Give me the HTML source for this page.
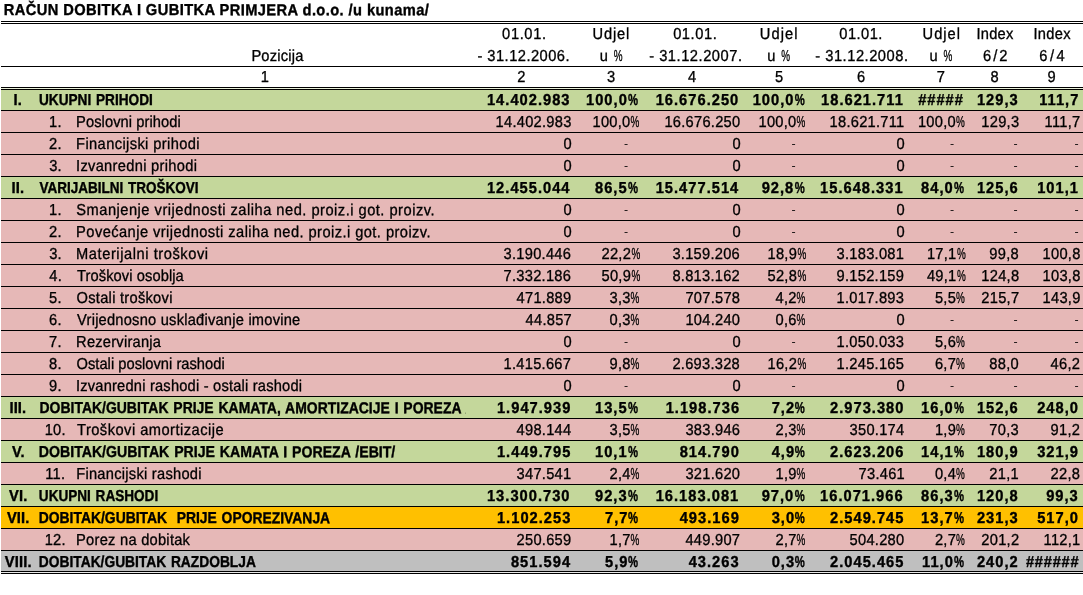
<!DOCTYPE html><html lang="hr"><head><meta charset="utf-8"><title>Račun dobitka i gubitka</title><style>
html,body{margin:0;padding:0}
body{width:1083px;height:595px;position:relative;overflow:hidden;background:#fff;color:#000;font:14.667px/22px "Liberation Sans",sans-serif}
.r{position:absolute;left:1px;right:0;height:22px;box-sizing:border-box;border-top:1px solid #000}
.r span,.h span,.t{position:absolute;top:0;white-space:pre;line-height:22px}
.r span,.h span{-webkit-text-stroke:.3px #000}
.r span,.h span,.t{left:0;transform:translateX(var(--x)) scaleY(1.08) rotate(.03deg);transform-origin:0 16px}
.r span.rt{left:auto;right:0}
.r span.lb{transform:translateX(var(--x)) scale(var(--s),1.08) rotate(.03deg);word-spacing:1px}
.b{font-weight:bold}
.r.b span,.t{-webkit-text-stroke:.35px #000}
.r span.d{-webkit-text-stroke:0}
.r span.d{transform:translateX(var(--x)) scale(.85,.8);transform-origin:50% 7px}
.h{position:absolute;left:0;right:0;height:22px}
.ln{position:absolute;left:1px;right:0;height:1px;background:#000}
i.p{display:inline-block;font-style:normal;width:.6em;transform:scaleX(.675);transform-origin:0 50%;letter-spacing:0}
.b i.p{width:.684em;transform:scaleX(.77)}
.c1{position:absolute;left:0;top:0;width:464.6px;height:21px;overflow:hidden}
</style></head><body>
<div class="t b" id="title" style="--x:3.77px;top:-1px;letter-spacing:0.417px">RAČUN DOBITKA I GUBITKA PRIMJERA d.o.o. /u kunama/</div>
<div class="h" style="top:23px">
<span id="ha0" style="--x:502.12px;letter-spacing:0.620px">01.01.</span>
<span id="ha1" style="--x:592.56px;letter-spacing:0.845px">Udjel</span>
<span id="ha2" style="--x:673.13px;letter-spacing:0.591px">01.01.</span>
<span id="ha3" style="--x:759.86px;letter-spacing:1.056px">Udjel</span>
<span id="ha4" style="--x:839.34px;letter-spacing:0.445px">01.01.</span>
<span id="ha5" style="--x:922.56px;letter-spacing:1.007px">Udjel</span>
<span id="ha6" style="--x:976.45px;letter-spacing:0.262px">Index</span>
<span id="ha7" style="--x:1033.40px;letter-spacing:0.314px">Index</span>
</div>
<div class="h" style="top:45px">
<span id="hb0" style="--x:251.38px;letter-spacing:0.213px">Pozicija</span>
<span id="hb1" style="--x:477.41px;letter-spacing:0.479px">- 31.12.2006.</span>
<span id="hb2" style="--x:599.82px;letter-spacing:0.776px">u <i class="p">%</i></span>
<span id="hb3" style="--x:649.13px;letter-spacing:0.541px">- 31.12.2007.</span>
<span id="hb4" style="--x:767.17px;letter-spacing:1.092px">u <i class="p">%</i></span>
<span id="hb5" style="--x:815.23px;letter-spacing:0.529px">- 31.12.2008.</span>
<span id="hb6" style="--x:929.42px;letter-spacing:0.688px">u <i class="p">%</i></span>
<span id="hb7" style="--x:982.94px;letter-spacing:2.055px">6/2</span>
<span id="hb8" style="--x:1039.22px;letter-spacing:2.575px">6/4</span>
</div>
<div class="h" style="top:66px">
<span id="hc0" style="--x:260.65px">1</span>
<span id="hc1" style="--x:517.15px">2</span>
<span id="hc2" style="--x:606.99px">3</span>
<span id="hc3" style="--x:688.03px">4</span>
<span id="hc4" style="--x:774.89px">5</span>
<span id="hc5" style="--x:856.91px">6</span>
<span id="hc6" style="--x:936.67px">7</span>
<span id="hc7" style="--x:990.60px">8</span>
<span id="hc8" style="--x:1047.60px">9</span>
</div>
<div class="ln" style="top:21px"></div>
<div class="ln" style="top:23px"></div>
<div class="ln" style="top:66px"></div>
<div class="ln" style="top:87px"></div>
<div class="r b" style="top:88px;background:#C4D79B">
<span id="n0" style="--x:12.60px;letter-spacing:0.150px">I.</span>
<span class="lb" id="l0" style="--x:37.96px;--s:0.9309">UKUPNI PRIHODI</span>
<span class="rt" id="v0_0" style="--x:-512.06px;letter-spacing:1.022px">14.402.983</span>
<span class="rt" id="v0_1" style="--x:-444.98px;letter-spacing:1.022px">100,0<i class="p">%</i></span>
<span class="rt" id="v0_2" style="--x:-343.33px;letter-spacing:1.022px">16.676.250</span>
<span class="rt" id="v0_3" style="--x:-278.32px;letter-spacing:1.022px">100,0<i class="p">%</i></span>
<span class="rt" id="v0_4" style="--x:-178.96px;letter-spacing:1.022px">18.621.711</span>
<span id="v0_5" style="--x:917.18px;letter-spacing:0.970px">#####</span>
<span class="rt" id="v0_6" style="--x:-64.07px;letter-spacing:1.022px">129,3</span>
<span class="rt" id="v0_7" style="--x:-3.83px;letter-spacing:1.022px">111,7</span>
</div>
<div class="r" style="top:110px;background:#E6B8B7">
<span id="n1" style="--x:47.94px;letter-spacing:0.300px">1.</span>
<span id="l1" style="--x:75.08px;letter-spacing:0.079px">Poslovni prihodi</span>
<span class="rt" id="v1_0" style="--x:-511.43px;letter-spacing:0.270px">14.402.983</span>
<span class="rt" id="v1_1" style="--x:-443.52px;letter-spacing:0.270px">100,0<i class="p">%</i></span>
<span class="rt" id="v1_2" style="--x:-342.60px;letter-spacing:0.270px">16.676.250</span>
<span class="rt" id="v1_3" style="--x:-277.52px;letter-spacing:0.270px">100,0<i class="p">%</i></span>
<span class="rt" id="v1_4" style="--x:-178.43px;letter-spacing:0.270px">18.621.711</span>
<span class="rt" id="v1_5" style="--x:-118.10px;letter-spacing:0.270px">100,0<i class="p">%</i></span>
<span class="rt" id="v1_6" style="--x:-63.65px;letter-spacing:0.270px">129,3</span>
<span class="rt" id="v1_7" style="--x:-2.44px;letter-spacing:0.270px">111,7</span>
</div>
<div class="r" style="top:132px;background:#E6B8B7">
<span id="n2" style="--x:47.95px;letter-spacing:0.300px">2.</span>
<span id="l2" style="--x:75.07px;letter-spacing:0.388px">Financijski prihodi</span>
<span class="rt" id="v2_0" style="--x:-511.43px;letter-spacing:0.270px">0</span>
<span class="d" id="v2_1" style="--x:622.73px">-</span>
<span class="rt" id="v2_2" style="--x:-342.60px;letter-spacing:0.270px">0</span>
<span class="d" id="v2_3" style="--x:790.05px">-</span>
<span class="rt" id="v2_4" style="--x:-178.43px;letter-spacing:0.270px">0</span>
<span class="d" id="v2_5" style="--x:948.51px">-</span>
<span class="d" id="v2_6" style="--x:1012.19px">-</span>
<span class="d" id="v2_7" style="--x:1073.05px">-</span>
</div>
<div class="r" style="top:154px;background:#E6B8B7">
<span id="n3" style="--x:48.13px;letter-spacing:0.300px">3.</span>
<span id="l3" style="--x:75.00px;letter-spacing:0.309px">Izvanredni prihodi</span>
<span class="rt" id="v3_0" style="--x:-511.43px;letter-spacing:0.270px">0</span>
<span class="d" id="v3_1" style="--x:622.73px">-</span>
<span class="rt" id="v3_2" style="--x:-342.60px;letter-spacing:0.270px">0</span>
<span class="d" id="v3_3" style="--x:790.05px">-</span>
<span class="rt" id="v3_4" style="--x:-178.43px;letter-spacing:0.270px">0</span>
<span class="d" id="v3_5" style="--x:948.51px">-</span>
<span class="d" id="v3_6" style="--x:1012.19px">-</span>
<span class="d" id="v3_7" style="--x:1073.05px">-</span>
</div>
<div class="r b" style="top:176px;background:#C4D79B">
<span id="n4" style="--x:10.48px;letter-spacing:0.150px">II.</span>
<span class="lb" id="l4" style="--x:38.57px;--s:0.9216">VARIJABILNI TROŠKOVI</span>
<span class="rt" id="v4_0" style="--x:-512.06px;letter-spacing:1.022px">12.455.044</span>
<span class="rt" id="v4_1" style="--x:-444.98px;letter-spacing:1.022px">86,5<i class="p">%</i></span>
<span class="rt" id="v4_2" style="--x:-343.33px;letter-spacing:1.022px">15.477.514</span>
<span class="rt" id="v4_3" style="--x:-278.32px;letter-spacing:1.022px">92,8<i class="p">%</i></span>
<span class="rt" id="v4_4" style="--x:-178.96px;letter-spacing:1.022px">15.648.331</span>
<span class="rt" id="v4_5" style="--x:-118.94px;letter-spacing:1.022px">84,0<i class="p">%</i></span>
<span class="rt" id="v4_6" style="--x:-64.07px;letter-spacing:1.022px">125,6</span>
<span class="rt" id="v4_7" style="--x:-3.83px;letter-spacing:1.022px">101,1</span>
</div>
<div class="r" style="top:198px;background:#E6B8B7">
<span id="n5" style="--x:47.94px;letter-spacing:0.300px">1.</span>
<span id="l5" style="--x:75.33px;letter-spacing:0.492px">Smanjenje vrijednosti zaliha ned. proiz.i got. proizv.</span>
<span class="rt" id="v5_0" style="--x:-511.43px;letter-spacing:0.270px">0</span>
<span class="d" id="v5_1" style="--x:622.73px">-</span>
<span class="rt" id="v5_2" style="--x:-342.60px;letter-spacing:0.270px">0</span>
<span class="d" id="v5_3" style="--x:790.05px">-</span>
<span class="rt" id="v5_4" style="--x:-178.43px;letter-spacing:0.270px">0</span>
<span class="d" id="v5_5" style="--x:948.51px">-</span>
<span class="d" id="v5_6" style="--x:1012.19px">-</span>
<span class="d" id="v5_7" style="--x:1073.05px">-</span>
</div>
<div class="r" style="top:220px;background:#E6B8B7">
<span id="n6" style="--x:47.95px;letter-spacing:0.300px">2.</span>
<span id="l6" style="--x:75.08px;letter-spacing:0.438px">Povećanje vrijednosti zaliha ned. proiz.i got. proizv.</span>
<span class="rt" id="v6_0" style="--x:-511.43px;letter-spacing:0.270px">0</span>
<span class="d" id="v6_1" style="--x:622.73px">-</span>
<span class="rt" id="v6_2" style="--x:-342.60px;letter-spacing:0.270px">0</span>
<span class="d" id="v6_3" style="--x:790.05px">-</span>
<span class="rt" id="v6_4" style="--x:-178.43px;letter-spacing:0.270px">0</span>
<span class="d" id="v6_5" style="--x:948.51px">-</span>
<span class="d" id="v6_6" style="--x:1012.19px">-</span>
<span class="d" id="v6_7" style="--x:1073.05px">-</span>
</div>
<div class="r" style="top:242px;background:#E6B8B7">
<span id="n7" style="--x:48.13px;letter-spacing:0.300px">3.</span>
<span id="l7" style="--x:75.07px;letter-spacing:0.561px">Materijalni troškovi</span>
<span class="rt" id="v7_0" style="--x:-511.43px;letter-spacing:0.270px">3.190.446</span>
<span class="rt" id="v7_1" style="--x:-443.52px;letter-spacing:0.270px">22,2<i class="p">%</i></span>
<span class="rt" id="v7_2" style="--x:-342.60px;letter-spacing:0.270px">3.159.206</span>
<span class="rt" id="v7_3" style="--x:-277.52px;letter-spacing:0.270px">18,9<i class="p">%</i></span>
<span class="rt" id="v7_4" style="--x:-178.43px;letter-spacing:0.270px">3.183.081</span>
<span class="rt" id="v7_5" style="--x:-118.10px;letter-spacing:0.270px">17,1<i class="p">%</i></span>
<span class="rt" id="v7_6" style="--x:-63.65px;letter-spacing:0.270px">99,8</span>
<span class="rt" id="v7_7" style="--x:-2.44px;letter-spacing:0.270px">100,8</span>
</div>
<div class="r" style="top:264px;background:#E6B8B7">
<span id="n8" style="--x:48.23px;letter-spacing:0.300px">4.</span>
<span id="l8" style="--x:75.99px;letter-spacing:0.094px">Troškovi osoblja</span>
<span class="rt" id="v8_0" style="--x:-511.43px;letter-spacing:0.270px">7.332.186</span>
<span class="rt" id="v8_1" style="--x:-443.52px;letter-spacing:0.270px">50,9<i class="p">%</i></span>
<span class="rt" id="v8_2" style="--x:-342.60px;letter-spacing:0.270px">8.813.162</span>
<span class="rt" id="v8_3" style="--x:-277.52px;letter-spacing:0.270px">52,8<i class="p">%</i></span>
<span class="rt" id="v8_4" style="--x:-178.43px;letter-spacing:0.270px">9.152.159</span>
<span class="rt" id="v8_5" style="--x:-118.10px;letter-spacing:0.270px">49,1<i class="p">%</i></span>
<span class="rt" id="v8_6" style="--x:-63.65px;letter-spacing:0.270px">124,8</span>
<span class="rt" id="v8_7" style="--x:-2.44px;letter-spacing:0.270px">103,8</span>
</div>
<div class="r" style="top:286px;background:#E6B8B7">
<span id="n9" style="--x:48.09px;letter-spacing:0.300px">5.</span>
<span id="l9" style="--x:75.57px;letter-spacing:0.271px">Ostali troškovi</span>
<span class="rt" id="v9_0" style="--x:-511.43px;letter-spacing:0.270px">471.889</span>
<span class="rt" id="v9_1" style="--x:-443.52px;letter-spacing:0.270px">3,3<i class="p">%</i></span>
<span class="rt" id="v9_2" style="--x:-342.60px;letter-spacing:0.270px">707.578</span>
<span class="rt" id="v9_3" style="--x:-277.52px;letter-spacing:0.270px">4,2<i class="p">%</i></span>
<span class="rt" id="v9_4" style="--x:-178.43px;letter-spacing:0.270px">1.017.893</span>
<span class="rt" id="v9_5" style="--x:-118.10px;letter-spacing:0.270px">5,5<i class="p">%</i></span>
<span class="rt" id="v9_6" style="--x:-63.65px;letter-spacing:0.270px">215,7</span>
<span class="rt" id="v9_7" style="--x:-2.44px;letter-spacing:0.270px">143,9</span>
</div>
<div class="r" style="top:308px;background:#E6B8B7">
<span id="n10" style="--x:48.02px;letter-spacing:0.300px">6.</span>
<span id="l10" style="--x:76.09px;letter-spacing:0.225px">Vrijednosno usklađivanje imovine</span>
<span class="rt" id="v10_0" style="--x:-511.43px;letter-spacing:0.270px">44.857</span>
<span class="rt" id="v10_1" style="--x:-443.52px;letter-spacing:0.270px">0,3<i class="p">%</i></span>
<span class="rt" id="v10_2" style="--x:-342.60px;letter-spacing:0.270px">104.240</span>
<span class="rt" id="v10_3" style="--x:-277.52px;letter-spacing:0.270px">0,6<i class="p">%</i></span>
<span class="rt" id="v10_4" style="--x:-178.43px;letter-spacing:0.270px">0</span>
<span class="d" id="v10_5" style="--x:948.51px">-</span>
<span class="d" id="v10_6" style="--x:1012.19px">-</span>
<span class="d" id="v10_7" style="--x:1073.05px">-</span>
</div>
<div class="r" style="top:330px;background:#E6B8B7">
<span id="n11" style="--x:48.11px;letter-spacing:0.300px">7.</span>
<span id="l11" style="--x:75.08px;letter-spacing:0.238px">Rezerviranja</span>
<span class="rt" id="v11_0" style="--x:-511.43px;letter-spacing:0.270px">0</span>
<span class="d" id="v11_1" style="--x:622.73px">-</span>
<span class="rt" id="v11_2" style="--x:-342.60px;letter-spacing:0.270px">0</span>
<span class="d" id="v11_3" style="--x:790.05px">-</span>
<span class="rt" id="v11_4" style="--x:-178.43px;letter-spacing:0.270px">1.050.033</span>
<span class="rt" id="v11_5" style="--x:-118.10px;letter-spacing:0.270px">5,6<i class="p">%</i></span>
<span class="d" id="v11_6" style="--x:1012.19px">-</span>
<span class="d" id="v11_7" style="--x:1073.05px">-</span>
</div>
<div class="r" style="top:352px;background:#E6B8B7">
<span id="n12" style="--x:48.05px;letter-spacing:0.300px">8.</span>
<span id="l12" style="--x:75.55px;letter-spacing:0.029px">Ostali poslovni rashodi</span>
<span class="rt" id="v12_0" style="--x:-511.43px;letter-spacing:0.270px">1.415.667</span>
<span class="rt" id="v12_1" style="--x:-443.52px;letter-spacing:0.270px">9,8<i class="p">%</i></span>
<span class="rt" id="v12_2" style="--x:-342.60px;letter-spacing:0.270px">2.693.328</span>
<span class="rt" id="v12_3" style="--x:-277.52px;letter-spacing:0.270px">16,2<i class="p">%</i></span>
<span class="rt" id="v12_4" style="--x:-178.43px;letter-spacing:0.270px">1.245.165</span>
<span class="rt" id="v12_5" style="--x:-118.10px;letter-spacing:0.270px">6,7<i class="p">%</i></span>
<span class="rt" id="v12_6" style="--x:-63.65px;letter-spacing:0.270px">88,0</span>
<span class="rt" id="v12_7" style="--x:-2.44px;letter-spacing:0.270px">46,2</span>
</div>
<div class="r" style="top:374px;background:#E6B8B7">
<span id="n13" style="--x:48.03px;letter-spacing:0.300px">9.</span>
<span id="l13" style="--x:75.00px;letter-spacing:0.202px">Izvanredni rashodi - ostali rashodi</span>
<span class="rt" id="v13_0" style="--x:-511.43px;letter-spacing:0.270px">0</span>
<span class="d" id="v13_1" style="--x:622.73px">-</span>
<span class="rt" id="v13_2" style="--x:-342.60px;letter-spacing:0.270px">0</span>
<span class="d" id="v13_3" style="--x:790.05px">-</span>
<span class="rt" id="v13_4" style="--x:-178.43px;letter-spacing:0.270px">0</span>
<span class="d" id="v13_5" style="--x:948.51px">-</span>
<span class="d" id="v13_6" style="--x:1012.19px">-</span>
<span class="d" id="v13_7" style="--x:1073.05px">-</span>
</div>
<div class="r b" style="top:396px;background:#C4D79B">
<span id="n14" style="--x:8.43px;letter-spacing:0.150px">III.</span>
<div class="c1"><span class="lb" id="l14" style="--x:38.50px;--s:0.9525">DOBITAK/GUBITAK PRIJE KAMATA, AMORTIZACIJE I POREZA /EBITDA/</span></div>
<span class="rt" id="v14_0" style="--x:-512.06px;letter-spacing:1.022px">1.947.939</span>
<span class="rt" id="v14_1" style="--x:-444.98px;letter-spacing:1.022px">13,5<i class="p">%</i></span>
<span class="rt" id="v14_2" style="--x:-343.33px;letter-spacing:1.022px">1.198.736</span>
<span class="rt" id="v14_3" style="--x:-278.32px;letter-spacing:1.022px">7,2<i class="p">%</i></span>
<span class="rt" id="v14_4" style="--x:-178.96px;letter-spacing:1.022px">2.973.380</span>
<span class="rt" id="v14_5" style="--x:-118.94px;letter-spacing:1.022px">16,0<i class="p">%</i></span>
<span class="rt" id="v14_6" style="--x:-64.07px;letter-spacing:1.022px">152,6</span>
<span class="rt" id="v14_7" style="--x:-3.83px;letter-spacing:1.022px">248,0</span>
</div>
<div class="r" style="top:418px;background:#E6B8B7">
<span id="n15" style="--x:43.65px;letter-spacing:0.300px">10.</span>
<span id="l15" style="--x:76.00px;letter-spacing:0.473px">Troškovi amortizacije</span>
<span class="rt" id="v15_0" style="--x:-511.43px;letter-spacing:0.270px">498.144</span>
<span class="rt" id="v15_1" style="--x:-443.52px;letter-spacing:0.270px">3,5<i class="p">%</i></span>
<span class="rt" id="v15_2" style="--x:-342.60px;letter-spacing:0.270px">383.946</span>
<span class="rt" id="v15_3" style="--x:-277.52px;letter-spacing:0.270px">2,3<i class="p">%</i></span>
<span class="rt" id="v15_4" style="--x:-178.43px;letter-spacing:0.270px">350.174</span>
<span class="rt" id="v15_5" style="--x:-118.10px;letter-spacing:0.270px">1,9<i class="p">%</i></span>
<span class="rt" id="v15_6" style="--x:-63.65px;letter-spacing:0.270px">70,3</span>
<span class="rt" id="v15_7" style="--x:-2.44px;letter-spacing:0.270px">91,2</span>
</div>
<div class="r b" style="top:440px;background:#C4D79B">
<span id="n16" style="--x:10.89px;letter-spacing:0.150px">V.</span>
<span class="lb" id="l16" style="--x:37.86px;--s:0.9632">DOBITAK/GUBITAK PRIJE KAMATA I POREZA /EBIT/</span>
<span class="rt" id="v16_0" style="--x:-512.06px;letter-spacing:1.022px">1.449.795</span>
<span class="rt" id="v16_1" style="--x:-444.98px;letter-spacing:1.022px">10,1<i class="p">%</i></span>
<span class="rt" id="v16_2" style="--x:-343.33px;letter-spacing:1.022px">814.790</span>
<span class="rt" id="v16_3" style="--x:-278.32px;letter-spacing:1.022px">4,9<i class="p">%</i></span>
<span class="rt" id="v16_4" style="--x:-178.96px;letter-spacing:1.022px">2.623.206</span>
<span class="rt" id="v16_5" style="--x:-118.94px;letter-spacing:1.022px">14,1<i class="p">%</i></span>
<span class="rt" id="v16_6" style="--x:-64.07px;letter-spacing:1.022px">180,9</span>
<span class="rt" id="v16_7" style="--x:-3.83px;letter-spacing:1.022px">321,9</span>
</div>
<div class="r" style="top:462px;background:#E6B8B7">
<span id="n17" style="--x:44.21px;letter-spacing:0.300px">11.</span>
<span id="l17" style="--x:75.19px;letter-spacing:0.265px">Financijski rashodi</span>
<span class="rt" id="v17_0" style="--x:-511.43px;letter-spacing:0.270px">347.541</span>
<span class="rt" id="v17_1" style="--x:-443.52px;letter-spacing:0.270px">2,4<i class="p">%</i></span>
<span class="rt" id="v17_2" style="--x:-342.60px;letter-spacing:0.270px">321.620</span>
<span class="rt" id="v17_3" style="--x:-277.52px;letter-spacing:0.270px">1,9<i class="p">%</i></span>
<span class="rt" id="v17_4" style="--x:-178.43px;letter-spacing:0.270px">73.461</span>
<span class="rt" id="v17_5" style="--x:-118.10px;letter-spacing:0.270px">0,4<i class="p">%</i></span>
<span class="rt" id="v17_6" style="--x:-63.65px;letter-spacing:0.270px">21,1</span>
<span class="rt" id="v17_7" style="--x:-2.44px;letter-spacing:0.270px">22,8</span>
</div>
<div class="r b" style="top:484px;background:#C4D79B">
<span id="n18" style="--x:7.98px;letter-spacing:0.150px">VI.</span>
<span class="lb" id="l18" style="--x:37.84px;--s:0.9264">UKUPNI RASHODI</span>
<span class="rt" id="v18_0" style="--x:-512.06px;letter-spacing:1.022px">13.300.730</span>
<span class="rt" id="v18_1" style="--x:-444.98px;letter-spacing:1.022px">92,3<i class="p">%</i></span>
<span class="rt" id="v18_2" style="--x:-343.33px;letter-spacing:1.022px">16.183.081</span>
<span class="rt" id="v18_3" style="--x:-278.32px;letter-spacing:1.022px">97,0<i class="p">%</i></span>
<span class="rt" id="v18_4" style="--x:-178.96px;letter-spacing:1.022px">16.071.966</span>
<span class="rt" id="v18_5" style="--x:-118.94px;letter-spacing:1.022px">86,3<i class="p">%</i></span>
<span class="rt" id="v18_6" style="--x:-64.07px;letter-spacing:1.022px">120,8</span>
<span class="rt" id="v18_7" style="--x:-3.83px;letter-spacing:1.022px">99,3</span>
</div>
<div class="r b" style="top:506px;background:#FFC000">
<span id="n19" style="--x:5.89px;letter-spacing:0.150px">VII.</span>
<span class="lb" id="l19" style="--x:37.75px;--s:0.9475">DOBITAK/GUBITAK  PRIJE OPOREZIVANJA</span>
<span class="rt" id="v19_0" style="--x:-512.06px;letter-spacing:1.022px">1.102.253</span>
<span class="rt" id="v19_1" style="--x:-444.98px;letter-spacing:1.022px">7,7<i class="p">%</i></span>
<span class="rt" id="v19_2" style="--x:-343.33px;letter-spacing:1.022px">493.169</span>
<span class="rt" id="v19_3" style="--x:-278.32px;letter-spacing:1.022px">3,0<i class="p">%</i></span>
<span class="rt" id="v19_4" style="--x:-178.96px;letter-spacing:1.022px">2.549.745</span>
<span class="rt" id="v19_5" style="--x:-118.94px;letter-spacing:1.022px">13,7<i class="p">%</i></span>
<span class="rt" id="v19_6" style="--x:-64.07px;letter-spacing:1.022px">231,3</span>
<span class="rt" id="v19_7" style="--x:-3.83px;letter-spacing:1.022px">517,0</span>
</div>
<div class="r" style="top:528px;background:#E6B8B7">
<span id="n20" style="--x:43.65px;letter-spacing:0.300px">12.</span>
<span id="l20" style="--x:75.08px;letter-spacing:0.258px">Porez na dobitak</span>
<span class="rt" id="v20_0" style="--x:-511.43px;letter-spacing:0.270px">250.659</span>
<span class="rt" id="v20_1" style="--x:-443.52px;letter-spacing:0.270px">1,7<i class="p">%</i></span>
<span class="rt" id="v20_2" style="--x:-342.60px;letter-spacing:0.270px">449.907</span>
<span class="rt" id="v20_3" style="--x:-277.52px;letter-spacing:0.270px">2,7<i class="p">%</i></span>
<span class="rt" id="v20_4" style="--x:-178.43px;letter-spacing:0.270px">504.280</span>
<span class="rt" id="v20_5" style="--x:-118.10px;letter-spacing:0.270px">2,7<i class="p">%</i></span>
<span class="rt" id="v20_6" style="--x:-63.65px;letter-spacing:0.270px">201,2</span>
<span class="rt" id="v20_7" style="--x:-2.44px;letter-spacing:0.270px">112,1</span>
</div>
<div class="r b" style="top:550px;background:#BFBFBF">
<span id="n21" style="--x:3.87px;letter-spacing:0.150px">VIII.</span>
<span class="lb" id="l21" style="--x:37.87px;--s:0.9399">DOBITAK/GUBITAK RAZDOBLJA</span>
<span class="rt" id="v21_0" style="--x:-512.06px;letter-spacing:1.022px">851.594</span>
<span class="rt" id="v21_1" style="--x:-444.98px;letter-spacing:1.022px">5,9<i class="p">%</i></span>
<span class="rt" id="v21_2" style="--x:-343.33px;letter-spacing:1.022px">43.263</span>
<span class="rt" id="v21_3" style="--x:-278.32px;letter-spacing:1.022px">0,3<i class="p">%</i></span>
<span class="rt" id="v21_4" style="--x:-178.96px;letter-spacing:1.022px">2.045.465</span>
<span class="rt" id="v21_5" style="--x:-118.94px;letter-spacing:1.022px">11,0<i class="p">%</i></span>
<span class="rt" id="v21_6" style="--x:-64.07px;letter-spacing:1.022px">240,2</span>
<span id="v21_7" style="--x:1024.96px;letter-spacing:0.754px">######</span>
</div>
<div class="ln" style="top:88px;background:#e9f0d8"></div>
<div class="ln" style="top:89px"></div>
<div class="ln" style="top:571px"></div>
<div class="ln" style="top:573px"></div>
<div class="ln" style="top:572px;background:#e8e8e8"></div>
</body></html>
